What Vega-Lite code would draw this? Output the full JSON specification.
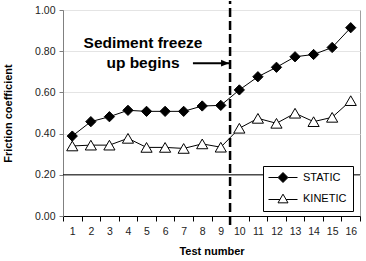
{
  "$schema": "https://vega.github.io/schema/vega-lite/v6.json",
  "autosize": {"type": "none"},
  "width": 297,
  "height": 206,
  "padding": {"left": 63, "top": 10, "right": 6, "bottom": 45},
  "background": "white",
  "config": {
    "font": "Liberation Sans",
    "view": {"stroke": "#a0a0a0", "strokeWidth": 1},
    "axis": {"labelFont": "Liberation Sans", "titleFont": "Liberation Sans", "labelColor": "#222", "titleColor": "#000"},
    "legend": {
      "orient": "none", "legendX": 200, "legendY": 156,
      "strokeColor": "#000", "fillColor": "#fff", "padding": 6, "rowPadding": 7,
      "labelOffset": 23, "labelFontSize": 11, "labelFont": "Liberation Sans", "labelColor": "#000",
      "symbolSize": 100, "symbolOpacity": 1, "symbolStrokeColor": "#000", "symbolStrokeWidth": 1
    }
  },
  "datasets": {
    "main": [
      {"test": 1, "series": "STATIC", "value": 0.388},
      {"test": 2, "series": "STATIC", "value": 0.458},
      {"test": 3, "series": "STATIC", "value": 0.482},
      {"test": 4, "series": "STATIC", "value": 0.513},
      {"test": 5, "series": "STATIC", "value": 0.508},
      {"test": 6, "series": "STATIC", "value": 0.508},
      {"test": 7, "series": "STATIC", "value": 0.508},
      {"test": 8, "series": "STATIC", "value": 0.534},
      {"test": 9, "series": "STATIC", "value": 0.537},
      {"test": 10, "series": "STATIC", "value": 0.612},
      {"test": 11, "series": "STATIC", "value": 0.676},
      {"test": 12, "series": "STATIC", "value": 0.722},
      {"test": 13, "series": "STATIC", "value": 0.773},
      {"test": 14, "series": "STATIC", "value": 0.784},
      {"test": 15, "series": "STATIC", "value": 0.818},
      {"test": 16, "series": "STATIC", "value": 0.914},
      {"test": 1, "series": "KINETIC", "value": 0.34},
      {"test": 2, "series": "KINETIC", "value": 0.344},
      {"test": 3, "series": "KINETIC", "value": 0.344},
      {"test": 4, "series": "KINETIC", "value": 0.377},
      {"test": 5, "series": "KINETIC", "value": 0.333},
      {"test": 6, "series": "KINETIC", "value": 0.333},
      {"test": 7, "series": "KINETIC", "value": 0.328},
      {"test": 8, "series": "KINETIC", "value": 0.35},
      {"test": 9, "series": "KINETIC", "value": 0.334},
      {"test": 10, "series": "KINETIC", "value": 0.426},
      {"test": 11, "series": "KINETIC", "value": 0.474},
      {"test": 12, "series": "KINETIC", "value": 0.45},
      {"test": 13, "series": "KINETIC", "value": 0.499},
      {"test": 14, "series": "KINETIC", "value": 0.458},
      {"test": 15, "series": "KINETIC", "value": 0.479},
      {"test": 16, "series": "KINETIC", "value": 0.56}
    ],
    "notes": [
      {"label": "Sediment freeze", "y": 0.841},
      {"label": "up begins", "y": 0.745}
    ],
    "arrow": [
      {"test": 8, "y": 0.742},
      {"test": 10, "y": 0.742}
    ],
    "one": [{"k": 1}]
  },
  "encoding": {
    "x": {
      "field": "test",
      "type": "ordinal",
      "scale": {"type": "band", "domain": [1,2,3,4,5,6,7,8,9,10,11,12,13,14,15,16], "paddingInner": 0, "paddingOuter": 0},
      "axis": {"title": "Test number", "titleFontSize": 11, "titleFontWeight": "bold", "titlePadding": 9, "labelAngle": 0, "labelFontSize": 10.5, "labelPadding": 5, "tickBand": "extent", "tickSize": 5, "tickColor": "#000", "domainColor": "#000", "grid": false}
    }
  },
  "layer": [
    {
      "data": {"name": "one"},
      "mark": {"type": "rule", "color": "#000", "strokeWidth": 1},
      "encoding": {"x": null, "y": {"datum": 0.2, "type": "quantitative"}}
    },
    {
      "data": {"name": "main"},
      "mark": {"type": "line", "color": "#000", "strokeWidth": 1},
      "encoding": {
        "y": {
          "field": "value", "type": "quantitative",
          "scale": {"domain": [0, 1], "nice": false},
          "axis": {"title": "Friction coefficient", "titleFontSize": 11, "titleFontWeight": "bold", "titlePadding": 21, "values": [0, 0.2, 0.4, 0.6, 0.8, 1], "format": ".2f", "labelFontSize": 10.5, "labelPadding": 4, "tickSize": 4, "tickColor": "#808080", "domainColor": "#808080", "gridColor": "#e4e4e4", "grid": true}
        },
        "detail": {"field": "series"}
      }
    },
    {
      "data": {"name": "one"},
      "mark": {"type": "rule", "color": "#000", "strokeWidth": 2.5, "strokeDash": [9, 4]},
      "encoding": {
        "x": {"datum": 10, "type": "ordinal", "bandPosition": 0},
        "y": {"datum": -0.044, "type": "quantitative"},
        "y2": {"datum": 1.044}
      }
    },
    {
      "data": {"name": "main"},
      "mark": {"type": "point", "filled": true, "opacity": 0, "size": 1},
      "encoding": {
        "y": {"field": "value", "type": "quantitative"},
        "fill": {
          "field": "series", "type": "nominal",
          "scale": {"domain": ["STATIC", "KINETIC"], "range": ["#000", "#fff"]},
          "legend": {
            "title": null,
            "symbolType": {"expr": "datum.value === 'STATIC' ? 'M-1.2,0H0.7M2.7,0H4.6M1.7,-1L2.7,0L1.7,1L0.7,0Z' : 'M-1.2,0.2H1.085M2.315,0.2H4.6M1.7,-0.866L2.7,0.866L0.7,0.866Z'"}
          }
        }
      }
    },
    {
      "data": {"name": "main"},
      "transform": [{"filter": "datum.series === 'STATIC'"}],
      "mark": {"type": "point", "shape": "diamond", "filled": true, "fill": "#000", "stroke": "#000", "strokeWidth": 1, "opacity": 1, "size": 105},
      "encoding": {
        "y": {"field": "value", "type": "quantitative"}
      }
    },
    {
      "data": {"name": "main"},
      "transform": [{"filter": "datum.series === 'KINETIC'"}],
      "mark": {"type": "point", "shape": "triangle-up", "filled": true, "fill": "#fff", "stroke": "#000", "strokeWidth": 1, "opacity": 1, "size": 125},
      "encoding": {
        "y": {"field": "value", "type": "quantitative"}
      }
    },
    {
      "data": {"name": "notes"},
      "mark": {"type": "text", "font": "Liberation Sans", "fontWeight": "bold", "fontSize": 15.5, "align": "center", "baseline": "middle", "color": "#000"},
      "encoding": {
        "x": {"datum": 5, "type": "ordinal", "bandPosition": 0.31},
        "y": {"field": "y", "type": "quantitative"},
        "text": {"field": "label"}
      }
    },
    {
      "data": {"name": "arrow"},
      "mark": {"type": "line", "color": "#000", "strokeWidth": 2},
      "encoding": {
        "x": {"field": "test", "type": "ordinal", "bandPosition": 0},
        "y": {"field": "y", "type": "quantitative"}
      }
    },
    {
      "data": {"name": "arrow"},
      "transform": [{"filter": "datum.test === 10"}],
      "mark": {"type": "point", "filled": true, "color": "#000", "opacity": 1, "shape": "M1,0L-1,-0.85L-1,0.85Z", "size": 64, "xOffset": -5},
      "encoding": {
        "x": {"field": "test", "type": "ordinal", "bandPosition": 0},
        "y": {"field": "y", "type": "quantitative"}
      }
    }
  ]
}
